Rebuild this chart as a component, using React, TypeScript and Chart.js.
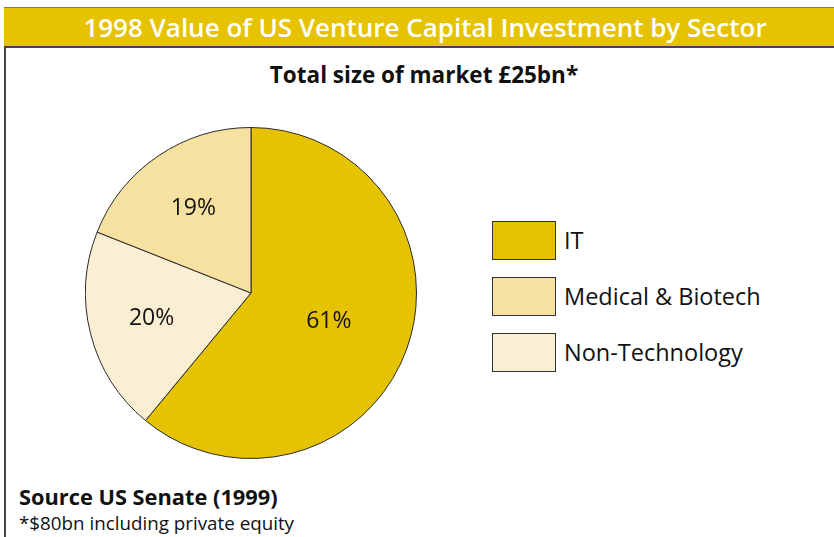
import React, { useEffect, useRef } from "react";
import { Chart, registerables } from "chart.js";

Chart.register(...registerables);

// Data (pie order clockwise from 12 o'clock)
const sectors = ["IT", "Non-Technology", "Medical & Biotech"];
const shares = [61, 20, 19];
const sliceColors = ["#E6C300", "#FAEFD3", "#F7E1A0"];
// Legend order
const legendOrder = ["IT", "Medical & Biotech", "Non-Technology"];
// label radial factor per slice (style)
const labelRadius = [0.5, 0.62, 0.62];

const titleText = "1998 Value of US Venture Capital Investment by Sector";
const subtitleText = "Total size of market £25bn*";
const sourceText = "Source US Senate (1999)";
const footnoteText = "*$80bn including private equity";

const FONT = "'Open Sans', 'Noto Sans', sans-serif";

const labelPlugin = {
  id: "sliceLabels",
  afterDatasetsDraw(chart: any) {
    const ctx = chart.ctx;
    const meta = chart.getDatasetMeta(0);
    ctx.save();
    ctx.fillStyle = "#111";
    ctx.font = `23px ${FONT}`;
    ctx.textAlign = "center";
    ctx.textBaseline = "middle";
    meta.data.forEach((arc: any, i: number) => {
      const { x, y, startAngle, endAngle, outerRadius } = arc.getProps(
        ["x", "y", "startAngle", "endAngle", "outerRadius"],
        true
      );
      const mid = (startAngle + endAngle) / 2;
      const r = outerRadius * labelRadius[i];
      ctx.fillText(`${shares[i]}%`, x + Math.cos(mid) * r, y + Math.sin(mid) * r);
    });
    ctx.restore();
  },
};

export default function App() {
  const canvasRef = useRef<HTMLCanvasElement | null>(null);

  useEffect(() => {
    document.body.style.margin = "0";
    const chart = new Chart(canvasRef.current as HTMLCanvasElement, {
      type: "pie",
      data: {
        labels: sectors,
        datasets: [
          {
            data: shares,
            backgroundColor: sliceColors,
            borderColor: "#2a2a2a",
            borderWidth: 1,
          },
        ],
      },
      options: {
        animation: false,
        responsive: false,
        maintainAspectRatio: false,
        layout: { padding: 0 },
        plugins: {
          legend: { display: false },
          tooltip: { enabled: false },
        },
      },
      plugins: [labelPlugin],
    });
    return () => chart.destroy();
  }, []);

  return (
    <div
      style={{
        position: "relative",
        width: 834,
        height: 537,
        overflow: "hidden",
        background: "#fff",
        fontFamily: FONT,
      }}
    >
      {/* frame left border */}
      <div
        style={{
          position: "absolute",
          left: 4,
          top: 7,
          width: 2,
          height: 540,
          background: "#444",
        }}
      />
      {/* header bar */}
      <div
        style={{
          position: "absolute",
          left: 4,
          top: 7,
          width: 840,
          height: 38,
          background: "#E6C300",
          borderTop: "1px solid #777",
          borderBottom: "2px solid #444",
          color: "#fff",
          fontWeight: 600,
          fontSize: 26,
          lineHeight: "38px",
        }}
      >
        <div
          style={{
            position: "absolute",
            left: 0,
            width: 842,
            textAlign: "center",
            whiteSpace: "nowrap",
          }}
        >
          {titleText}
        </div>
      </div>
      {/* subtitle */}
      <div
        style={{
          position: "absolute",
          left: 0,
          width: 848,
          top: 59,
          textAlign: "center",
          fontSize: 22.5,
          fontWeight: 700,
          lineHeight: "32px",
          color: "#111",
        }}
      >
        {subtitleText}
      </div>
      {/* pie */}
      <canvas
        ref={canvasRef}
        width={332}
        height={332}
        style={{ position: "absolute", left: 85, top: 127, width: 332, height: 332 }}
      />
      {/* legend */}
      {legendOrder.map((name, k) => {
        const idx = sectors.indexOf(name);
        return (
          <div key={name}>
            <div
              style={{
                position: "absolute",
                left: 492,
                top: 221 + k * 56,
                width: 62,
                height: 37,
                background: sliceColors[idx],
                border: "1px solid #333",
              }}
            />
            <div
              style={{
                position: "absolute",
                left: 564,
                top: 221 + k * 56,
                height: 39,
                lineHeight: "39px",
                fontSize: 23.5,
                color: "#111",
              }}
            >
              {name}
            </div>
          </div>
        );
      })}
      {/* source */}
      <div
        style={{
          position: "absolute",
          left: 19,
          top: 482,
          fontSize: 21.8,
          fontWeight: 700,
          lineHeight: "30px",
          color: "#111",
        }}
      >
        {sourceText}
      </div>
      <div
        style={{
          position: "absolute",
          left: 19,
          top: 511,
          fontSize: 18.8,
          lineHeight: "24px",
          color: "#111",
        }}
      >
        {footnoteText}
      </div>
    </div>
  );
}
